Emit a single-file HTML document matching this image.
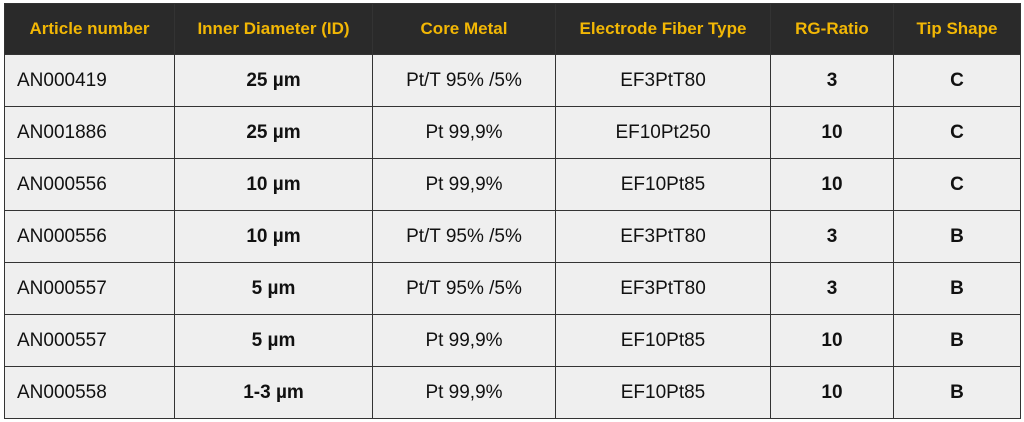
<!DOCTYPE html>
<html><head><style>
body{margin:0;width:1024px;height:422px;background:#fff;position:relative;overflow:hidden;font-family:"Liberation Sans",Arial,sans-serif}
table{position:absolute;left:4px;top:3px;width:1016px;border-collapse:collapse;table-layout:fixed}
td,th{border:1.5px solid #333;height:51px;padding:0;text-align:center;font-size:19px;color:#111;background:#efefef}
th{background:#2a2a2a;color:#f2b705;font-weight:bold;font-size:17px;height:50px}
td.l{text-align:left;padding-left:12px}
td.b{font-weight:bold}
</style></head><body>
<table>
<colgroup><col style="width:170px"><col style="width:198px"><col style="width:183px"><col style="width:215px"><col style="width:123px"><col style="width:127px"></colgroup>
<tr><th>Article number</th><th>Inner Diameter (ID)</th><th>Core Metal</th><th>Electrode Fiber Type</th><th>RG-Ratio</th><th>Tip Shape</th></tr>
<tr><td class="l">AN000419</td><td class="b">25 µm</td><td>Pt/T 95% /5%</td><td>EF3PtT80</td><td class="b">3</td><td class="b">C</td></tr>
<tr><td class="l">AN001886</td><td class="b">25 µm</td><td>Pt 99,9%</td><td>EF10Pt250</td><td class="b">10</td><td class="b">C</td></tr>
<tr><td class="l">AN000556</td><td class="b">10 µm</td><td>Pt 99,9%</td><td>EF10Pt85</td><td class="b">10</td><td class="b">C</td></tr>
<tr><td class="l">AN000556</td><td class="b">10 µm</td><td>Pt/T 95% /5%</td><td>EF3PtT80</td><td class="b">3</td><td class="b">B</td></tr>
<tr><td class="l">AN000557</td><td class="b">5 µm</td><td>Pt/T 95% /5%</td><td>EF3PtT80</td><td class="b">3</td><td class="b">B</td></tr>
<tr><td class="l">AN000557</td><td class="b">5 µm</td><td>Pt 99,9%</td><td>EF10Pt85</td><td class="b">10</td><td class="b">B</td></tr>
<tr><td class="l">AN000558</td><td class="b">1-3 µm</td><td>Pt 99,9%</td><td>EF10Pt85</td><td class="b">10</td><td class="b">B</td></tr>
</table>
</body></html>
